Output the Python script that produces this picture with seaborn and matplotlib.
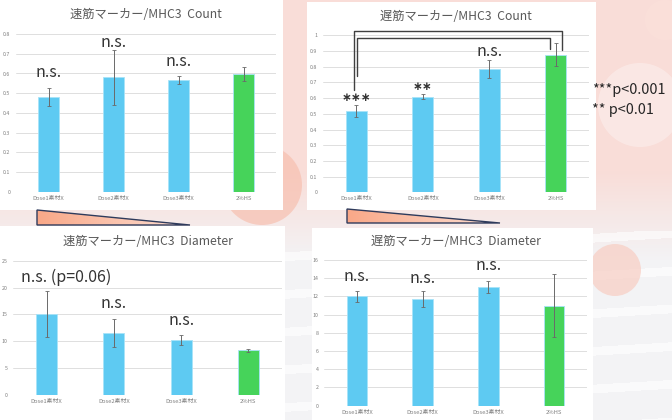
import numpy as np
import pandas as pd
import matplotlib
matplotlib.use("Agg")
import matplotlib.pyplot as plt
import seaborn as sns
from matplotlib.patches import Rectangle, Polygon, Circle

# ---- data ----
groups = ["Dose1素材X", "Dose2素材X", "Dose3素材X", "2%HS"]

fast_count = [0.48, 0.58, 0.565, 0.598]
fast_count_err = [0.047, 0.14, 0.02, 0.037]

slow_count = [0.518, 0.609, 0.783, 0.876]
slow_count_err = [0.039, 0.015, 0.058, 0.072]

fast_diam = [15.08, 11.54, 10.18, 8.32]
fast_diam_err = [4.3, 2.55, 0.93, 0.3]

slow_diam = [12.0, 11.69, 13.08, 10.99]
slow_diam_err = [0.56, 0.87, 0.66, 3.46]

sns.set_theme(style="white")
plt.rcParams["font.family"] = ["Noto Sans CJK JP", "DejaVu Sans"]

BLUE = "#5ECAF2"
GREEN = "#46D35A"
GRAY_TXT = "#7f7f7f"
palette = [BLUE, BLUE, BLUE, GREEN]

fig = plt.figure(figsize=(6.72, 4.2), dpi=100)

# ---- background (pixel coordinates) ----
bg = fig.add_axes([0, 0, 1, 1], zorder=0)
bg.set_xlim(0, 672)
bg.set_ylim(420, 0)
bg.axis("off")
yy, xx = np.mgrid[0:420, 0:672]
top = np.array([249, 221, 216]) / 255
bot = np.array([243, 243, 245]) / 255
t = np.clip((yy - 170) / 90, 0, 1)[..., None]
img = top * (1 - t) + bot * t
stripes = (np.sin((yy + 0.06 * xx) / 6.0) > 0.75)[..., None] * (yy > 230)[..., None]
img = img * (1 - 0.6 * stripes) + 0.6 * stripes * np.ones(3)
bg.imshow(img, extent=(0, 672, 420, 0), aspect="auto", zorder=0)
for cx, cy, r, col, a in [(640, 105, 42, "#fbe9e6", 0.9), (615, 270, 26, "#f8cdc2", 0.7),
                          (262, 185, 40, "#f7c0b0", 0.7), (665, 20, 20, "#fbe0da", 0.8)]:
    bg.add_patch(Circle((cx, cy), r, color=col, alpha=a, lw=0, zorder=1))

# white cards
for x0, y0, x1, y1 in [(0, 0, 283, 210), (307, 2, 596, 210), (0, 226, 285, 420), (312, 228, 593, 420)]:
    bg.add_patch(Rectangle((x0, y0), x1 - x0, y1 - y0, color="white", lw=0, zorder=2))

# dose wedges
grad = np.linspace(0, 1, 200)[None, :, None]
wedge_img = np.array([249, 168, 136]) / 255 * (1 - grad) + np.array([253, 222, 210]) / 255 * grad
for x0, y0, x1, y1 in [(37, 210, 190, 225), (347, 209, 500, 223)]:
    poly = Polygon([(x0, y0), (x0, y1), (x1, y1)], closed=True, fc="none",
                   ec="#2f3b5c", lw=1.0, zorder=4)
    bg.add_patch(poly)
    im = bg.imshow(wedge_img, extent=(x0, x1, y1, y0), aspect="auto", zorder=3)
    im.set_clip_path(poly)


def panel(rect, values, errs, ymax, step, title, title_y):
    ax = fig.add_axes(rect, zorder=5)
    ax.set_facecolor("none")
    df = pd.DataFrame({"group": groups, "value": values})
    sns.barplot(data=df, x="group", y="value", hue="group", palette=palette,
                saturation=1, legend=False, width=0.31, errorbar=None, ax=ax,
                edgecolor="#a8e3f8", linewidth=0.6, zorder=3)
    ax.errorbar(range(len(groups)), values, yerr=errs, fmt="none", ecolor="#6a6a6a",
                elinewidth=0.7, capsize=1.5, capthick=0.6, zorder=4)
    ax.set_ylim(0, ymax)
    ax.set_xlim(-0.5, 3.5)
    ticks = np.arange(0, ymax + step / 2, step)
    ax.set_yticks(ticks)
    ax.set_yticklabels([f"{v:g}" for v in ticks])
    ax.yaxis.grid(True, color="#d9d9d9", lw=0.6, zorder=0)
    ax.set_axisbelow(True)
    sns.despine(ax=ax, left=True, bottom=True)
    ax.tick_params(axis="y", labelsize=3.8, colors=GRAY_TXT, length=0, pad=4)
    ax.tick_params(axis="x", labelsize=4.2, colors=GRAY_TXT, length=0, pad=3)
    ax.set_xlabel("")
    ax.set_ylabel("")
    x_mid = rect[0] + rect[2] / 2
    fig.text(x_mid, 1 - title_y / 420, title, ha="center", va="center",
             fontsize=8.8, color="#595959", zorder=6)
    return ax


def label(ax, x, y, s, ha="center", size=11.5, weight="normal"):
    ax.text(x, y, s, ha=ha, va="center", fontsize=size, color="#333333",
            weight=weight, zorder=6)


ax1 = panel([16 / 672, 1 - 192 / 420, 260 / 672, 158 / 420], fast_count, fast_count_err,
            0.8, 0.1, "速筋マーカー/MHC3  Count", 15)
label(ax1, 0, 0.606, "n.s.")
label(ax1, 1, 0.756, "n.s.")
label(ax1, 2, 0.663, "n.s.")

ax2 = panel([323 / 672, 1 - 192.3 / 420, 266 / 672, 157 / 420], slow_count, slow_count_err,
            1.0, 0.1, "遅筋マーカー/MHC3  Count", 16)
label(ax2, 2, 0.90, "n.s.")
label(ax2, 0, 0.605, "∗∗∗", size=8.5, weight="bold")
label(ax2, 1, 0.675, "∗∗", size=8.5, weight="bold")
# significance brackets
ax2.plot([-0.04, -0.04, 3.09, 3.09], [0.652, 1.025, 1.025, 0.906], color="#404040",
         lw=1.0, clip_on=False, zorder=6)
ax2.plot([0.01, 0.01, 2.91, 2.91], [0.741, 0.985, 0.985, 0.91], color="#404040",
         lw=1.0, clip_on=False, zorder=6)
fig.text(592 / 672, 1 - 90 / 420, "***p<0.001", ha="left", va="center", fontsize=10.4,
         color="#262626", zorder=7)
fig.text(592 / 672, 1 - 110 / 420, "** p<0.01", ha="left", va="center", fontsize=10.4,
         color="#262626", zorder=7)

ax3 = panel([13 / 672, 1 - 395 / 420, 269 / 672, 134.3 / 420], fast_diam, fast_diam_err,
            25, 5, "速筋マーカー/MHC3  Diameter", 242)
label(ax3, -0.386, 21.83, "n.s. (p=0.06)", ha="left")
label(ax3, 1, 17.1, "n.s.")
label(ax3, 2, 13.8, "n.s.")

ax4 = panel([324 / 672, 1 - 405.7 / 420, 263 / 672, 145.7 / 420], slow_diam, slow_diam_err,
            16, 2, "遅筋マーカー/MHC3  Diameter", 241.7)
label(ax4, 0, 14.18, "n.s.")
label(ax4, 1, 14.0, "n.s.")
label(ax4, 2, 15.38, "n.s.")

fig.savefig("out.png", dpi=100)
